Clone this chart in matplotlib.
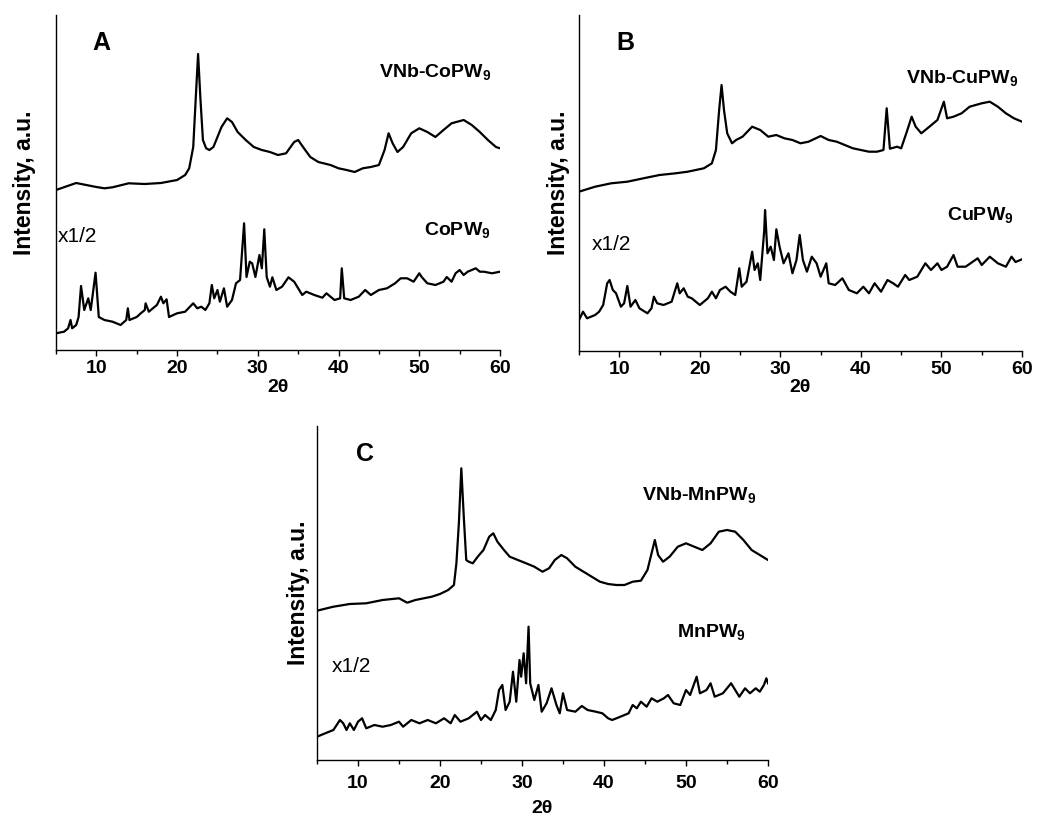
import matplotlib
matplotlib.use("Agg")
import matplotlib.pyplot as plt
from matplotlib.ticker import MultipleLocator

plt.rcParams['font.family'] = ['Liberation Sans', 'DejaVu Sans']
plt.rcParams['mathtext.fontset'] = 'custom'
plt.rcParams['mathtext.rm'] = 'Liberation Sans'
plt.rcParams['mathtext.bf'] = 'Liberation Sans:bold'

# --- dados (2θ, intensidade em unidades arbitrárias) ---
co_vnb_x = [5, 7.5, 10, 11, 12, 14, 16, 18, 20, 21, 21.5, 22, 22.3, 22.6, 22.9, 23.2, 23.6, 24, 24.5,
            25, 25.5, 26.2, 26.8, 27.5, 28.5, 29.5, 30.5, 31.5, 32.5, 33.5, 34.5, 35, 35.6, 36.5, 37.5,
            39, 40, 41, 42, 43, 44, 45, 45.7, 46.2, 46.7, 47.3, 48, 49, 50, 51, 52, 53, 54, 55.5,
            56.5, 57.5, 58.5, 59.5, 60]
co_vnb_y = [160, 167, 163, 161.7, 162.7, 166.7, 166, 167, 170, 175, 181.7, 203, 250, 296, 250, 210, 201.7, 200, 203,
            213, 223, 231.7, 228, 218, 210, 203, 200, 198, 195, 196.7, 208, 210, 203, 193, 188,
            185, 181.7, 180, 178, 181.7, 183, 185, 200, 216.7, 206.7, 198, 203, 216.7, 221.7, 218, 213, 220, 226.7, 230,
            225, 218, 210, 203, 201.7]

co_x = [5, 6, 6.5, 6.8, 7, 7.5, 7.8, 8.1, 8.5, 9, 9.3, 9.9, 10.3, 11, 12, 13, 13.7, 13.9, 14.1, 15, 15.5,
        16, 16.1, 16.5, 17, 17.5, 18, 18.3, 18.7, 19, 20, 21, 22, 22.5, 23, 23.5, 24, 24.3, 24.6, 25,
        25.3, 25.8, 26.2, 26.8, 27.3, 27.8, 28.3, 28.6, 29, 29.3, 29.7, 30.2, 30.5, 30.8, 31.1, 31.5,
        31.8, 32.3, 33, 33.8, 34.5, 35, 35.5, 36, 37, 38, 38.5, 39.5, 40.2, 40.4, 40.7, 41.5, 42.5,
        43.3, 44, 45, 46, 47, 47.7, 48.5, 49.3, 50, 50.3, 51, 52, 53, 53.4, 54, 54.5, 55, 55.5, 56,
        57, 57.5, 58, 59, 60]
co_y = [16.7, 18.3, 21.7, 30, 21.7, 25, 33, 64, 40, 51.7, 40, 77.3, 33, 30, 28.3, 25, 30, 41.7, 30, 33, 36.7,
        40, 46.7, 38.3, 41.7, 45, 53.3, 46.7, 50.7, 33, 36.7, 38.3, 46.7, 41.7, 43.3, 40, 46.7, 65, 51.7, 60,
        48.3, 61.7, 43.3, 50, 66.7, 70, 126.7, 73, 88.3, 86.7, 73, 95, 81.7, 120.7, 73, 63.3,
        72.7, 60, 63.3, 72.7, 68.3, 61.7, 55, 58.3, 55, 52.3, 56.7, 50, 51.7, 81.7, 51.7, 50, 53.3,
        60, 55, 60, 61.7, 66.7, 71.7, 71.7, 68.3, 76.7, 73, 66.7, 65, 68.3, 73, 68.3, 76.7, 80, 75, 78.3,
        81.7, 78.3, 78.3, 76.7, 78.3]

cu_vnb_x = [5, 7, 9, 11, 13, 15, 17, 18.5, 19.5, 20.5, 21.5, 22, 22.4, 22.7, 23, 23.4, 24, 24.5, 25.3,
            26.5, 27.5, 28.5, 29.5, 30.5, 31.5, 32.5, 33.5, 35, 36, 37, 38, 39, 40, 41, 42, 42.8, 43.2,
            43.6, 44.5, 45, 45.7, 46.3, 46.8, 47.5, 48.5, 49.5, 50.3, 50.7, 51.5, 52.5, 53.5, 55, 56,
            57, 58, 59, 60]
cu_vnb_y = [159.3, 164.3, 167.7, 169.3, 172.7, 176, 177.7, 179.3, 181, 182.7, 187.7, 201, 241, 266, 241, 217.7, 207.7, 211, 214.3,
            224.3, 221, 214.3, 216, 212.7, 211, 207.7, 209.3, 215, 211, 209.3, 206, 202.7, 201, 199.3, 199.3, 201, 242.7,
            202.3, 204.3, 202.7, 219.3, 234.3, 224.3, 217.7, 224.3, 231, 249.3, 232.7, 234.3, 237.7, 244.3, 247.7, 249.3,
            244.3, 237.7, 232.7, 229.3]

cu_x = [5, 5.5, 6, 7, 7.5, 8, 8.5, 8.8, 9.2, 9.6, 10.2, 10.6, 11, 11.4, 12, 12.5, 13.5, 14, 14.3, 14.7,
        15.5, 16.5, 17.2, 17.5, 18, 18.5, 19, 20, 21, 21.5, 22, 22.5, 23.2, 23.8, 24.4, 24.9, 25.2, 25.8,
        26.5, 26.8, 27.2, 27.5, 28, 28.1, 28.4, 28.8, 29.2, 29.5, 29.9, 30.4, 31, 31.5, 32, 32.4, 32.8,
        33.3, 33.9, 34.5, 35, 35.7, 36, 36.8, 37.7, 38.5, 39.5, 40.3, 41, 41.7, 42.5, 43.3, 44, 44.6,
        45.5, 46, 47, 48, 48.7, 49.5, 50, 50.7, 51.5, 52, 53, 54.5, 55, 56, 56.5, 57, 58, 58.7, 59.2, 60]
cu_y = [31, 39.3, 32.7, 36, 39.3, 46, 67.7, 71, 61, 57.7, 44.3, 47.7, 65, 44.3, 51, 42.7, 37.7, 42.7, 54.3, 47.7,
        46, 49.3, 67.7, 57.7, 62.7, 54.3, 52.7, 46, 52.7, 59.3, 52.7, 61, 64.3, 59.3, 56, 82.7, 64.3, 69.3,
        99.3, 81, 87.7, 71, 121, 141, 97.7, 104.3, 91, 121.7, 104.3, 87.7, 97.7, 77.7, 91, 116, 91,
        79.3, 94.3, 87.7, 74.3, 87.7, 67.7, 66, 72.7, 61, 57.7, 64.3, 57.7, 67.7, 59.3, 71, 67.7, 64.3,
        76, 71, 74.3, 87.7, 81, 87.7, 81, 84.3, 96, 84.3, 84.3, 92.7, 86, 94.3, 91, 87.7, 84.3, 94.3, 89, 91.7]

mn_vnb_x = [5, 7, 9, 11, 13, 15, 16, 17, 19, 20, 21, 21.7, 22, 22.3, 22.6, 22.9, 23.2, 23.5, 24, 24.6,
            25.3, 26, 26.5, 27, 27.8, 28.5, 29.5, 30.5, 31.5, 32.5, 33.3, 34, 34.8, 35.5, 36.5, 37.5,
            38.5, 39.5, 40.5, 41.5, 42.5, 43.5, 44.5, 45.3, 45.8, 46.2, 46.6, 47.2, 48, 49, 50, 51, 52,
            53, 54, 55, 56, 57, 58, 59, 60]
mn_vnb_y = [149.3, 153.3, 156, 156.7, 160, 161.7, 157.3, 160, 163.3, 166, 170, 175, 196.7, 236.7, 291.7, 243.3, 200, 198.3, 196.7, 203.3,
            210, 223.3, 226.7, 218.3, 210, 203.3, 200, 196.7, 193.3, 188.3, 191.7, 200, 205, 201.7, 193.3, 188.3,
            183.3, 178.3, 176, 175, 175, 178.3, 179.3, 190, 206.7, 220, 205, 198.3, 203.3, 213.3, 216.7, 213.3, 210,
            216.7, 228.3, 230, 228.3, 220, 210, 205, 200]

mn_x = [5, 6, 7, 7.8, 8.2, 8.6, 9, 9.5, 10, 10.5, 11, 12, 13, 14, 15, 15.5, 16.5, 17.5, 18.5, 19.5, 20.5,
        21.3, 21.8, 22.5, 23.5, 24.5, 25, 25.5, 26.2, 26.8, 27.2, 27.6, 28, 28.5, 28.9, 29.3, 29.7, 29.9,
        30.2, 30.5, 30.8, 31, 31.5, 32, 32.4, 33, 33.6, 34.2, 34.6, 35, 35.5, 36.5, 37.3, 38, 39, 39.8,
        40.5, 41, 42, 43, 43.5, 44, 44.5, 45.2, 45.8, 46.5, 47.3, 47.8, 48.5, 49.3, 50, 50.5, 51.3,
        51.7, 52.5, 53, 53.5, 54.5, 55.5, 56, 56.5, 57.2, 57.8, 58.5, 59, 59.5, 59.8, 60]
mn_y = [23.3, 26.7, 30, 40, 36.7, 30, 36.7, 30, 38.3, 41.7, 31.7, 35, 33.3, 35, 38.3, 33.3, 40, 36.7, 40, 36.7, 41.7,
        36.7, 45, 38.3, 41.7, 48.3, 40, 45, 40, 50, 70, 75, 50, 58.3, 88.3, 58.3, 100, 83.3,
        106.7, 76.7, 133.3, 76.7, 60, 75, 48.3, 56.7, 71.7, 55, 46.7, 66.7, 50, 48.3, 54, 50, 48.3, 46.7,
        41.7, 40, 43.3, 46.7, 55, 51.7, 58.3, 53.3, 61.7, 58.3, 61.7, 65, 56.7, 55, 70, 65, 83.3,
        66.7, 70, 76.7, 63.3, 66.7, 76.7, 70, 63.3, 71.7, 66.7, 71.7, 68.3, 75, 81.7, 76.7]

W, H = 1052, 818
fig = plt.figure(figsize=(W / 100, H / 100), dpi=100)


def painel(left, right, top, bottom, letra, xa, ya, xb, yb, nome_a, nome_b,
           pos_letra, pos_a, pos_b, pos_meio, ylab_x, tick_pad, xlab_top):
    ax = fig.add_axes([left / W, (H - bottom) / H, (right - left) / W, (bottom - top) / H])
    ax.plot(xa, ya, color='black', lw=1.6)
    ax.plot(xb, yb, color='black', lw=1.6)
    ax.set_xlim(5, 60)
    ax.set_ylim(0, bottom - top)
    for s in ['top', 'right']:
        ax.spines[s].set_visible(False)
    for s in ['left', 'bottom']:
        ax.spines[s].set_linewidth(1.0)
    ax.set_yticks([])
    ax.xaxis.set_major_locator(MultipleLocator(10))
    ax.xaxis.set_minor_locator(MultipleLocator(5))
    ax.tick_params(axis='x', which='major', direction='out', length=4, width=1.0,
                   pad=tick_pad, labelsize=14)
    ax.tick_params(axis='x', which='minor', direction='out', length=3, width=1.0)
    for t in ax.get_xticklabels():
        t.set_fontweight('bold')
    ax.set_xlabel('2θ', fontsize=14, fontweight='bold')
    ax.xaxis.set_label_coords(0.5, (bottom - xlab_top) / (bottom - top))

    def px(xp, yp):
        return ((xp - left) / (right - left), (bottom - yp) / (bottom - top))

    ax.text(*px(*pos_letra), letra, transform=ax.transAxes, fontsize=18, fontweight='bold',
            ha='left', va='center')
    ax.text(*px(*pos_a), nome_a, transform=ax.transAxes, fontsize=14, fontweight='bold',
            ha='right', va='center')
    ax.text(*px(*pos_b), nome_b, transform=ax.transAxes, fontsize=14, fontweight='bold',
            ha='right', va='center')
    ax.text(*px(*pos_meio), 'x1/2', transform=ax.transAxes, fontsize=15,
            ha='left', va='center')
    fig.text(ylab_x / W, (H - (top + bottom) / 2) / H, 'Intensity, a.u.', rotation=90,
             fontsize=16.5, fontweight='bold', ha='center', va='center')
    return ax


painel(56, 500, 15, 350, 'A', co_vnb_x, co_vnb_y, co_x, co_y,
       r'VNb-CoPW$_\mathbf{9}$', r'CoPW$_\mathbf{9}$',
       (92, 43), (491, 73), (491, 231), (58, 237), 25, 3, 379)
painel(579, 1022, 15, 351, 'B', cu_vnb_x, cu_vnb_y, cu_x, cu_y,
       r'VNb-CuPW$_\mathbf{9}$', r'CuPW$_\mathbf{9}$',
       (616, 43), (1018, 79), (1014, 216), (592, 245), 559, 3, 379)
painel(317, 768, 426, 760, 'C', mn_vnb_x, mn_vnb_y, mn_x, mn_y,
       r'VNb-MnPW$_\mathbf{9}$', r'MnPW$_\mathbf{9}$',
       (356, 454), (756, 496), (746, 633), (332, 667), 299, 7, 800)

plt.savefig('out.png', dpi=100)
